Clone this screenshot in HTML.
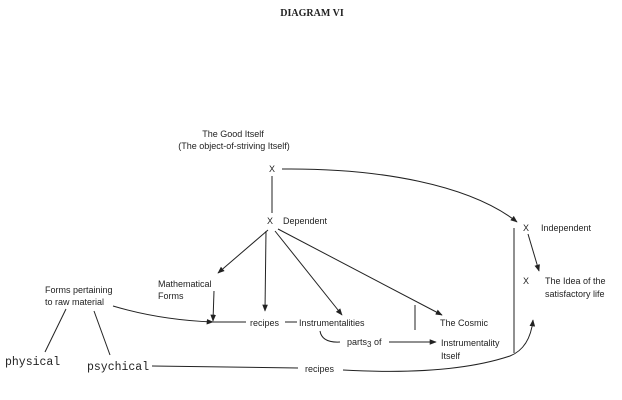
<!DOCTYPE html>
<html><head><style>
html,body{margin:0;padding:0;background:#fff;}
svg{display:block;}
text{font-family:"Liberation Sans",sans-serif;font-size:9px;fill:#222;}
.m{font-family:"Liberation Mono",monospace;font-size:11.5px;}
</style></head><body>
<svg width="622" height="400" viewBox="0 0 622 400" xmlns="http://www.w3.org/2000/svg">
<defs>
<marker id="a" viewBox="0 0 10 10" refX="9" refY="5" markerWidth="7" markerHeight="7" orient="auto-start-reverse"><path d="M0,1 L10,5 L0,9 z" fill="#222"/></marker>
</defs>
<text x="312" y="16" text-anchor="middle" style="font-family:'Liberation Serif',serif;font-weight:bold;font-size:10px">DIAGRAM VI</text>
<text x="233" y="137" text-anchor="middle">The Good Itself</text>
<text x="234" y="149" text-anchor="middle">(The object-of-striving Itself)</text>
<text x="272" y="172" text-anchor="middle">X</text>
<text x="270" y="224" text-anchor="middle">X</text>
<text x="283" y="224">Dependent</text>
<text x="526" y="231" text-anchor="middle">X</text>
<text x="541" y="231">Independent</text>
<text x="526" y="284" text-anchor="middle">X</text>
<text x="545" y="284">The Idea of the</text>
<text x="545" y="297">satisfactory life</text>
<text x="158" y="287">Mathematical</text>
<text x="158" y="299">Forms</text>
<text x="45" y="293">Forms pertaining</text>
<text x="45" y="305">to raw material</text>
<text x="250" y="326">recipes</text>
<text x="299" y="326">Instrumentalities</text>
<text x="440" y="326">The Cosmic</text>
<text x="347" y="345">parts<tspan dy="2" font-size="8">3</tspan><tspan dy="-2"> of</tspan></text>
<text x="441" y="346">Instrumentality</text>
<text x="441" y="359">Itself</text>
<text x="305" y="372">recipes</text>
<text class="m" x="5" y="365">physical</text>
<text class="m" x="87" y="370">psychical</text>
<g stroke="#222" stroke-width="1" fill="none">
<line x1="272" y1="176" x2="272" y2="213"/>
<path d="M282,169 C380,168 470,185 517,222" marker-end="url(#a)"/>
<line x1="268" y1="230" x2="218" y2="273" marker-end="url(#a)"/>
<line x1="266" y1="231" x2="265" y2="311" marker-end="url(#a)"/>
<line x1="275" y1="231" x2="342" y2="315" marker-end="url(#a)"/>
<line x1="278" y1="229" x2="442" y2="315" marker-end="url(#a)"/>
<line x1="214" y1="291" x2="213" y2="321" marker-end="url(#a)"/>
<path d="M113,306 Q160,320 213,322" marker-end="url(#a)"/>
<line x1="213" y1="322" x2="246" y2="322"/>
<line x1="285" y1="322" x2="297" y2="322"/>
<line x1="415" y1="305" x2="415" y2="330"/>
<path d="M320,331 Q322,343 340,342"/>
<line x1="389" y1="342" x2="436" y2="342" marker-end="url(#a)"/>
<line x1="514" y1="228" x2="514" y2="353"/>
<line x1="528" y1="234" x2="539" y2="271" marker-end="url(#a)"/>
<path d="M343,370 Q450,376 510,356 Q530,348 533,320" marker-end="url(#a)"/>
<line x1="152" y1="366" x2="298" y2="368"/>
<line x1="66" y1="309" x2="45" y2="352"/>
<line x1="94" y1="311" x2="110" y2="355"/>
</g>
</svg>
</body></html>
